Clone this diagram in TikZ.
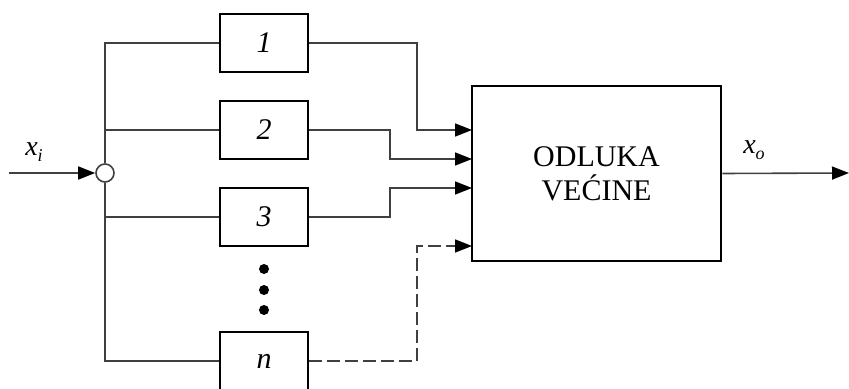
\documentclass[tikz,border=0pt]{standalone}
\usepackage{fontspec}
\setmainfont{Liberation Serif}
\usetikzlibrary{arrows.meta,calc}
\tikzset{
  blok/.style={draw=black, line width=1.3pt, fill=white, inner sep=0pt, minimum width=44pt, minimum height=29pt, font=\fontsize{15}{15}\selectfont\itshape},
  veza/.style={draw=black!75, line width=0.8pt},
  strel/.style={veza, -{Triangle[length=8.5pt,width=6.5pt,color=black]}},
  tacka/.style={circle, fill=black, inner sep=0pt, minimum size=5pt},
  oznaka/.style={font=\fontsize{14}{14}\selectfont\itshape},
}

\begin{document}
\begin{tikzpicture}[x=0.5pt, y=-0.5pt]
			%%%%% START %%%%%
			\useasboundingbox (0, 0) rectangle (849, 389);
			
			\node[blok] (b1) at (264, 43) {1};
			\node[blok] (b2) at (264, 130) {2};
			\node[blok] (b3) at (264, 217) {3};
			\node[blok] (bn) at (264, 361) {n};
			
			\node[tacka] (t1) at (264, 269) {};
			\node[tacka] (t2) at (264, 290) {};
			\node[tacka] (t3) at (264, 310) {};
			
			\node[draw=black, line width=1.3pt, minimum width=124.5pt, minimum height=87.5pt, align=center, font=\fontsize{15}{17}\selectfont] (odluka) at (596.5, 173.5) {ODLUKA\\VEĆINE};
			
			\node[circle, draw=black!75, line width=0.8pt, fill=white, inner sep=0pt, minimum size=9pt] (cvor) at (105, 173) {};
			
			\coordinate (ulaz) at (9, 173);
			\coordinate (izlaz) at (849, 173);
			\coordinate (u1) at (472, 130);
			\coordinate (u2) at (472, 159);
			\coordinate (u3) at (472, 188);
			\coordinate (u4) at (472, 246);
			
			% ulaz i grananje
			\draw[strel] (ulaz) -- (cvor.west);
			\draw[veza] (cvor.north) |- (b1.west);
			\draw[veza] (cvor.south) |- (bn.west);
			\draw[veza] (b2.west) -- (b2.west -| cvor);
			\draw[veza] (b3.west) -- (b3.west -| cvor);
			
			% ka odluci
			\draw[strel] (b1.east) -| ($(u1)+(-55, 0)$) -- (u1);
			\draw[strel] (b2.east) -| ($(u2)+(-82, 0)$) -- (u2);
			\draw[strel] (b3.east) -| ($(u3)+(-82, 0)$) -- (u3);
			\draw[strel, dash pattern=on 6.5pt off 2.5pt] (bn.east) -| ($(u4)+(-55, 0)$) -- (u4);
			
			\draw[strel] (odluka.east) -- (izlaz);
			
			\node[oznaka] (xi) at (34, 152) {x\raisebox{-0.5ex}{\fontsize{9}{9}\selectfont i}};
			\node[oznaka] (xo) at (754, 150) {x\raisebox{-0.5ex}{\fontsize{9}{9}\selectfont o}};
			%%%%% END %%%%%
\end{tikzpicture}
\end{document}
